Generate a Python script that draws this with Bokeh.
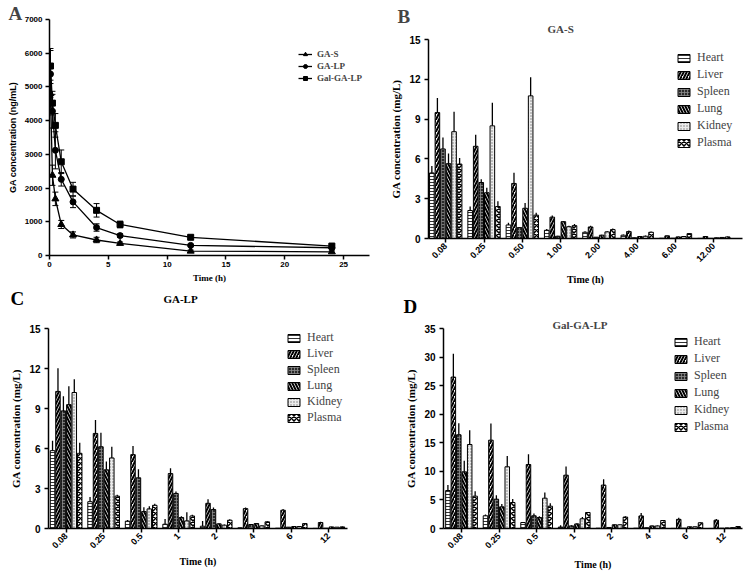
import math
import numpy as np
from bokeh.plotting import figure
from bokeh.layouts import column, row
from bokeh.models import (ColumnDataSource, Whisker, TeeHead, Title, FixedTicker,
                          Legend, LegendItem, Range1d)
from bokeh.core.properties import value
from bokeh.embed import file_html
from bokeh.resources import INLINE

SERIF = "Liberation Serif"
SANS = "Liberation Sans"

# ---------------- Panel A: plasma concentration-time ----------------
pk_time = [0.083, 0.25, 0.5, 1, 2, 4, 6, 12, 24]
gas_mean = [4800, 2380, 1680, 920, 610, 460, 360, 130, 110]
gas_sd = [400, 300, 200, 120, 90, 80, 40, 30, 30]
galp_mean = [5380, 4280, 3120, 2260, 1590, 830, 590, 300, 230]
galp_sd = [700, 500, 550, 200, 170, 110, 50, 30, 30]
gal_mean = [5620, 4520, 3860, 2780, 1970, 1340, 920, 540, 280]
gal_sd = [520, 350, 350, 350, 200, 200, 100, 60, 40]
pk_labels = ["GA-S", "GA-LP", "Gal-GA-LP"]
pk_x_ticks = [0, 5, 10, 15, 20, 25]
pk_y_ticks = [0, 1000, 2000, 3000, 4000, 5000, 6000, 7000]

# ---------------- Tissue distribution ----------------
organs = ["Heart", "Liver", "Spleen", "Lung", "Kidney", "Plasma"]
times_b = ["0.08", "0.25", "0.50", "1.00", "2.00", "4.00", "6.00", "12.00"]
times_cd = ["0.08", "0.25", "0.5", "1", "2", "4", "6", "12"]

# GA-S (panel B)
gas_heart = [4.94, 2.11, 1.02, 0.62, 0.47, 0.25, 0.02, 0.01]
gas_liver = [9.49, 6.95, 4.15, 1.61, 0.87, 0.52, 0.20, 0.15]
gas_spleen = [6.75, 4.22, 0.82, 0.17, 0.10, 0.05, 0.02, 0.01]
gas_lung = [5.64, 3.45, 2.28, 1.27, 0.25, 0.15, 0.12, 0.05]
gas_kidney = [8.05, 8.49, 10.75, 0.89, 0.50, 0.17, 0.15, 0.08]
gas_plasma = [5.61, 2.41, 1.76, 0.97, 0.67, 0.47, 0.37, 0.12]
gas_heart_sd = [0.52, 0.30, 0.17, 0.10, 0.08, 0.06, 0.02, 0.02]
gas_liver_sd = [1.10, 0.87, 0.80, 0.12, 0.10, 0.08, 0.05, 0.03]
gas_spleen_sd = [0.87, 0.25, 0.05, 0.03, 0.02, 0.02, 0.01, 0.01]
gas_lung_sd = [0.77, 0.37, 0.40, 0.05, 0.04, 0.04, 0.03, 0.02]
gas_kidney_sd = [1.50, 1.74, 1.40, 0.08, 0.06, 0.05, 0.03, 0.02]
gas_plasma_sd = [0.45, 0.40, 0.18, 0.12, 0.08, 0.06, 0.05, 0.03]

# GA-LP (panel C)
galp_heart = [5.84, 2.01, 0.55, 0.32, 0.17, 0.05, 0.02, 0.01]
galp_liver = [10.28, 7.13, 5.54, 4.12, 1.89, 1.49, 1.37, 0.45]
galp_spleen = [8.82, 6.13, 3.80, 2.63, 1.42, 0.30, 0.10, 0.02]
galp_lung = [9.29, 4.40, 1.27, 0.82, 0.35, 0.37, 0.15, 0.12]
galp_kidney = [10.20, 5.29, 1.47, 0.57, 0.25, 0.20, 0.15, 0.10]
galp_plasma = [5.64, 2.43, 1.74, 0.94, 0.62, 0.50, 0.37, 0.12]
galp_heart_sd = [0.74, 0.35, 0.08, 0.40, 0.40, 0.02, 0.01, 0.01]
galp_liver_sd = [1.74, 1.00, 0.65, 0.40, 0.30, 0.08, 0.10, 0.05]
galp_spleen_sd = [1.10, 1.05, 0.65, 0.15, 0.15, 0.04, 0.02, 0.01]
galp_lung_sd = [1.37, 0.62, 0.32, 0.10, 0.05, 0.05, 0.03, 0.02]
galp_kidney_sd = [1.00, 0.85, 0.20, 0.65, 0.05, 0.04, 0.03, 0.02]
galp_plasma_sd = [0.80, 0.10, 0.12, 0.10, 0.08, 0.06, 0.05, 0.03]

# Gal-GA-LP (panel D)
gal_heart = [6.65, 2.22, 1.05, 0.25, 0.05, 0.05, 0.02, 0.01]
gal_liver = [26.5, 15.46, 11.2, 9.33, 7.6, 2.2, 1.6, 1.45]
gal_spleen = [16.4, 5.13, 2.22, 0.45, 0.18, 0.12, 0.05, 0.05]
gal_lung = [9.92, 3.79, 1.93, 0.80, 0.65, 0.45, 0.30, 0.10]
gal_kidney = [14.7, 10.8, 5.3, 1.70, 0.65, 0.45, 0.30, 0.15]
gal_plasma = [5.66, 4.55, 3.9, 2.8, 2.0, 1.4, 1.0, 0.35]
gal_heart_sd = [0.95, 0.25, 0.10, 0.30, 0.03, 0.03, 0.02, 0.01]
gal_liver_sd = [4.1, 2.9, 1.8, 1.5, 1.0, 0.5, 0.3, 0.2]
gal_spleen_sd = [2.0, 0.7, 0.4, 0.1, 0.05, 0.05, 0.03, 0.02]
gal_lung_sd = [1.92, 0.5, 0.2, 0.1, 0.1, 0.08, 0.05, 0.03]
gal_kidney_sd = [2.5, 1.9, 1.0, 0.3, 0.1, 0.08, 0.05, 0.03]
gal_plasma_sd = [0.87, 0.6, 0.5, 0.1, 0.15, 0.1, 0.1, 0.05]

HATCH = {
    "Heart": dict(fill_color="white", hatch_pattern="horizontal_line", hatch_scale=3, hatch_weight=0.8, hatch_color="black"),
    "Liver": dict(fill_color="white", hatch_pattern="right_diagonal_line", hatch_scale=6, hatch_weight=2, hatch_color="black"),
    "Spleen": dict(fill_color="#2a2a2a", hatch_pattern="cross", hatch_scale=3, hatch_weight=0.8, hatch_color="#8c8c8c"),
    "Lung": dict(fill_color="white", hatch_pattern="left_diagonal_line", hatch_scale=6, hatch_weight=2, hatch_color="black"),
    "Kidney": dict(fill_color="#ececec", hatch_pattern="dot", hatch_scale=3, hatch_weight=0.8, hatch_color="#777777"),
    "Plasma": dict(fill_color="white", hatch_pattern="diagonal_cross", hatch_scale=5, hatch_weight=1.5, hatch_color="black"),
}


def base_axes(p, tick_size, tick_font, xlabel_font, xlabel_size, ylabel_font, ylabel_size):
    p.xgrid.visible = False
    p.ygrid.visible = False
    p.outline_line_color = None
    for ax in (p.xaxis, p.yaxis):
        ax.axis_line_width = 1.5
        ax.major_tick_line_width = 1.5
        ax.major_tick_out = 4
        ax.major_tick_in = 0
        ax.minor_tick_out = 0
        ax.minor_tick_in = 0
        ax.major_label_text_font = tick_font
        ax.major_label_text_font_style = "bold"
        ax.major_label_text_font_size = tick_size
        ax.major_label_text_color = "black"
        ax.axis_label_text_font_style = "bold"
        ax.axis_label_text_color = "black"
    p.xaxis.axis_label_text_font = xlabel_font
    p.xaxis.axis_label_text_font_size = xlabel_size
    p.yaxis.axis_label_text_font = ylabel_font
    p.yaxis.axis_label_text_font_size = ylabel_size


def style_title(t, txt, size, offset, standoff):
    t.text = txt
    t.align = "left"
    t.offset = offset
    t.text_font = SERIF
    t.text_font_style = "bold"
    t.text_font_size = size
    t.standoff = standoff


def new_title(txt, size, offset, standoff):
    t = Title(text=txt)
    style_title(t, txt, size, offset, standoff)
    return t


def spacer(p, standoff):
    # outermost, invisible title used only to fix the height of the top border
    style_title(p.title, " ", "1px", 0, standoff)


# ---------------- Figure A ----------------
pA = figure(width=376, height=287, output_backend="svg", toolbar_location=None,
            x_range=Range1d(0, 27.2), y_range=Range1d(0, 7000),
            min_border_left=49, min_border_right=7, min_border_top=0, min_border_bottom=32)
base_axes(pA, "8px", SANS, SERIF, "9px", SANS, "9px")
pA.xaxis.ticker = FixedTicker(ticks=pk_x_ticks)
pA.yaxis.ticker = FixedTicker(ticks=pk_y_ticks)
pA.xaxis.axis_label = "Time (h)"
pA.yaxis.axis_label = "GA concentration (ng/mL)"
pA.xaxis.major_label_standoff = 2
pA.yaxis.major_label_standoff = 3
pA.xaxis.axis_label_standoff = 3
pA.yaxis.axis_label_standoff = 4

itemsA = []
for lab, mean, sd, mk, sz in [("GA-S", gas_mean, gas_sd, "triangle", 7),
                              ("GA-LP", galp_mean, galp_sd, "circle", 6),
                              ("Gal-GA-LP", gal_mean, gal_sd, "square", 6)]:
    m = np.array(mean, dtype=float)
    s = np.array(sd, dtype=float)
    src = ColumnDataSource(dict(t=pk_time, m=m, lo=m - s, hi=m + s))
    r1 = pA.line("t", "m", source=src, line_color="black", line_width=1.3)
    r2 = pA.scatter("t", "m", source=src, marker=mk, size=sz, fill_color="black", line_color="black")
    pA.add_layout(Whisker(source=src, base="t", upper="hi", lower="lo", line_width=1,
                          upper_head=TeeHead(size=6, line_width=1),
                          lower_head=TeeHead(size=6, line_width=1)))
    itemsA.append(LegendItem(label=lab, renderers=[r1, r2]))
legA = Legend(items=itemsA, location=(249, 172), border_line_color=None, background_fill_alpha=0,
              padding=0, margin=0, spacing=1, glyph_width=14, glyph_height=10, label_height=11,
              label_standoff=5, label_text_font=SERIF, label_text_font_style="bold",
              label_text_font_size="9px")
pA.add_layout(legA)
pA.add_layout(new_title("A", "19px", -41, -8), "above")
spacer(pA, 1)


# ---------------- Bar figures ----------------
def bar_fig(width, height, borders, xr, yr, yticks, tlabels, means, sds, leg_loc, leg_spacing,
            xlabel_standoff):
    L, R, T, B = borders
    p = figure(width=width, height=height, output_backend="svg", toolbar_location=None,
               x_range=Range1d(*xr), y_range=Range1d(*yr),
               min_border_left=L, min_border_right=R, min_border_top=T, min_border_bottom=B)
    base_axes(p, "10px", SANS, SERIF, "10px", SERIF, "11px")
    p.xaxis.major_label_text_font_size = "9px"
    p.xaxis.ticker = FixedTicker(ticks=list(range(len(tlabels))))
    p.xaxis.major_label_overrides = {i: t for i, t in enumerate(tlabels)}
    p.xaxis.major_label_orientation = math.pi / 4
    p.yaxis.ticker = FixedTicker(ticks=yticks)
    p.xaxis.axis_label = "Time (h)"
    p.yaxis.axis_label = "GA concentration (mg/L)"
    p.xaxis.major_label_standoff = 2
    p.yaxis.major_label_standoff = 4
    p.xaxis.axis_label_standoff = xlabel_standoff
    p.yaxis.axis_label_standoff = 4
    step = 0.145
    items = []
    for k, org in enumerate(organs):
        x = np.arange(len(tlabels)) + (k - 2.5) * step
        top = np.array(means[k], dtype=float)
        err = np.array(sds[k], dtype=float)
        r = p.vbar(x=x, top=top, bottom=0, width=0.12, line_color="black", line_width=1,
                   **HATCH[org])
        p.segment(x0=x, y0=top, x1=x, y1=top + err, line_color="black", line_width=1.3)
        items.append(LegendItem(label=org, renderers=[r]))
    leg = Legend(items=items, location=leg_loc, border_line_color=None, background_fill_alpha=0,
                 padding=0, margin=0, spacing=leg_spacing, glyph_width=15, glyph_height=10,
                 label_height=13, label_standoff=6, label_text_font=SERIF,
                 label_text_font_size="12px")
    p.add_layout(leg)
    return p


pB = bar_fig(372, 287, (52, 6, 0, 46), (-0.45, 7.75), (0, 15), [0, 3, 6, 9, 12, 15], times_b,
             [gas_heart, gas_liver, gas_spleen, gas_lung, gas_kidney, gas_plasma],
             [gas_heart_sd, gas_liver_sd, gas_spleen_sd, gas_lung_sd, gas_kidney_sd, gas_plasma_sd],
             (248, 88), 2, 6)
pB.add_layout(new_title("GA-S", "11px", 119, 10), "above")
pB.add_layout(new_title("B", "19px", -31, -22), "above")
spacer(pB, 11)

pC = bar_fig(376, 257, (48, 29, 10, 47), (-0.47, 7.5), (0, 15), [0, 3, 6, 9, 12, 15], times_cd,
             [galp_heart, galp_liver, galp_spleen, galp_lung, galp_kidney, galp_plasma],
             [galp_heart_sd, galp_liver_sd, galp_spleen_sd, galp_lung_sd, galp_kidney_sd, galp_plasma_sd],
             (238, 103), 1, 2)
spacer(pC, 7)

pD = bar_fig(372, 257, (67, 6, 10, 47), (-0.48, 7.48), (0, 35), [0, 5, 10, 15, 20, 25, 30, 35], times_cd,
             [gal_heart, gal_liver, gal_spleen, gal_lung, gal_kidney, gal_plasma],
             [gal_heart_sd, gal_liver_sd, gal_spleen_sd, gal_lung_sd, gal_kidney_sd, gal_plasma_sd],
             (230, 94), 2, 5)
style_title(pD.title, "Gal-GA-LP", "11px", 109, -4)

# header strip holding the panel letters C and D and the GA-LP title
hdr = figure(width=750, height=31, output_backend="svg", toolbar_location=None,
             x_range=Range1d(0, 750), y_range=Range1d(0, 31),
             x_axis_location=None, y_axis_location=None, min_border=0)
hdr.outline_line_color = None
hdr.grid.visible = False
hdr.text(x=[10, 403], y=[20, 12], text=["C", "D"], text_font=value(SERIF), text_font_style="bold",
         text_font_size="19px", text_align="left", text_baseline="middle", text_color="black")
hdr.text(x=[180], y=[20], text=["GA-LP"], text_font=value(SERIF), text_font_style="bold",
         text_font_size="11px", text_align="center", text_baseline="middle", text_color="black")

layout = column(row(column(pA), column(pB)), column(hdr), row(pC, pD))
open("out.html", "w").write(file_html(layout, INLINE))
